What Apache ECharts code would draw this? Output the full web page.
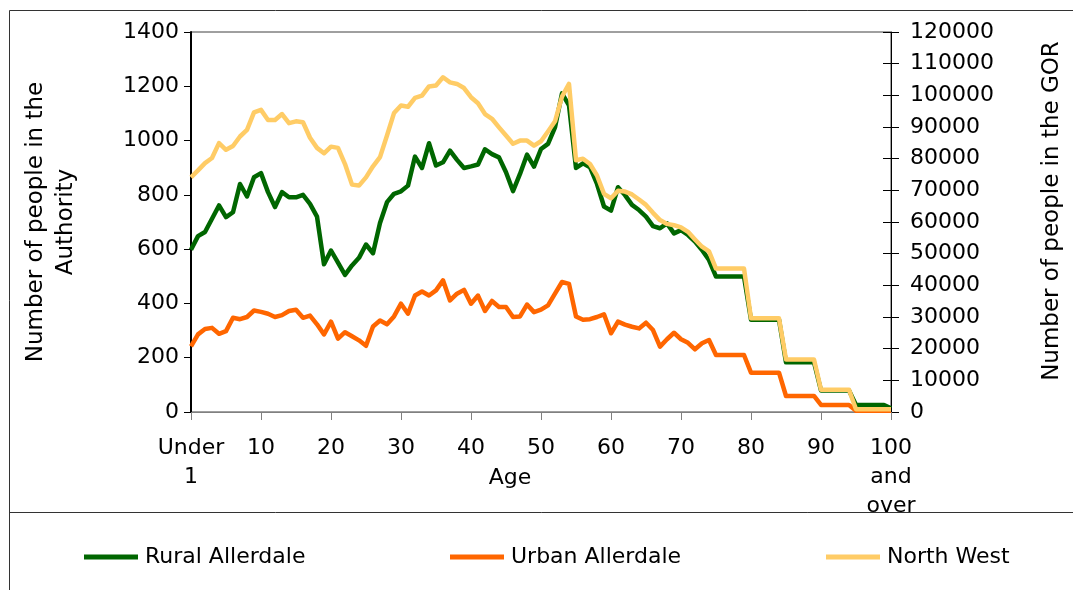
<!DOCTYPE html>
<html>
<head>
<meta charset="utf-8">
<script src="https://cdn.jsdelivr.net/npm/echarts@6/dist/echarts.min.js"></script>
<style>
html,body{margin:0;padding:0;background:#fff;}
#chart{width:1073px;height:590px;}
</style>
</head>
<body>
<div id="chart"></div>
<script>
// Categories: single years of age
const ages = ['Under 1','1','2','3','4','5','6','7','8','9','10','11','12','13','14','15','16','17','18','19','20',
'21','22','23','24','25','26','27','28','29','30','31','32','33','34','35','36','37','38','39','40',
'41','42','43','44','45','46','47','48','49','50','51','52','53','54','55','56','57','58','59','60',
'61','62','63','64','65','66','67','68','69','70','71','72','73','74','75','76','77','78','79','80',
'81','82','83','84','85','86','87','88','89','90','91','92','93','94','95','96','97','98','99','100 and over'];

// Left axis (Authority)
const ruralAllerdale = [598,648,663,712,761,718,736,840,794,865,880,810,755,810,791,791,800,767,720,544,595,
550,505,540,568,617,585,696,773,804,813,834,941,899,990,908,920,963,929,899,905,
912,968,950,938,883,814,877,948,904,969,988,1049,1174,1130,899,916,902,840,757,742,
828,799,763,744,720,685,677,695,658,670,652,628,597,560,499,499,499,499,499,340,
340,340,340,340,183,183,183,183,183,79,79,79,79,79,26,26,26,26,26,14];

const urbanAllerdale = [242,286,306,310,288,298,347,342,350,374,369,362,350,357,372,377,347,355,323,286,333,
270,294,279,264,244,315,337,323,352,399,362,429,444,429,448,485,411,436,450,399,
429,372,409,387,387,350,352,396,368,377,393,436,479,472,352,340,342,350,360,290,
333,322,314,308,329,302,241,268,292,268,255,231,253,265,210,210,210,210,210,145,
145,145,145,145,59,59,59,59,59,26,26,26,26,26,5,5,5,5,5,5];

// Right axis (GOR)
const northWest = [74100,76300,78600,80200,84900,82800,84000,87000,89100,94600,95400,92200,92200,94100,91200,91800,91500,86600,83400,81700,83800,
83400,78300,71800,71500,74100,77600,80500,87300,94400,96800,96400,99200,99900,102800,103100,105700,104100,103600,102300,99400,
97500,94100,92600,89900,87300,84700,85700,85700,84100,85500,88600,91800,99600,103600,79500,80000,78300,74700,68900,67500,
69900,69600,68700,67100,65400,62900,60600,59400,59000,58300,56900,54500,52200,50700,45300,45300,45300,45300,45300,29600,
29600,29600,29600,29600,16600,16600,16600,16600,16600,7000,7000,7000,7000,7000,900,900,900,900,900,900];

const seriesNames = ['Rural Allerdale','Urban Allerdale','North West'];
const seriesColors = ['#006600','#FF6600','#FFCC66'];

const FONT = 'DejaVu Sans';
const chart = echarts.init(document.getElementById('chart'), null, {renderer:'canvas'});
const plain = function(v){ return String(v); };

function legendFor(i, left){
  return {
    data:[seriesNames[i]], left:left, top:541, orient:'horizontal',
    icon:'rect', itemWidth:54, itemHeight:5,
    textStyle:{fontFamily:FONT, fontSize:22, color:'#000', padding:[0,0,0,2]},
    selectedMode:false
  };
}

const option = {
  animation:false,
  backgroundColor:'#fff',
  textStyle:{fontFamily:FONT},
  graphic:[
    {type:'line', shape:{x1:9.5,y1:10.5,x2:1073,y2:10.5}, style:{stroke:'#333',lineWidth:1}},
    {type:'line', shape:{x1:9.5,y1:10.5,x2:9.5,y2:590}, style:{stroke:'#333',lineWidth:1}},
    {type:'line', shape:{x1:9.5,y1:512.5,x2:1073,y2:512.5}, style:{stroke:'#333',lineWidth:1}}
  ],
  legend:[legendFor(0,79), legendFor(1,445), legendFor(2,821)],
  grid:{left:191, right:182, top:32, bottom:178, containLabel:false,
        show:true, borderColor:'#404040', borderWidth:1, backgroundColor:'transparent'},
  xAxis:{
    type:'category', data:ages, boundaryGap:false,
    name:'Age', nameLocation:'middle', nameGap:55, nameMoveOverlap:false,
    nameTextStyle:{fontFamily:FONT, fontSize:22, color:'#000', padding:[0,62,0,0]},
    axisLine:{lineStyle:{color:'#808080', width:1}},
    axisTick:{interval:9, length:8, lineStyle:{color:'#808080'}},
    axisLabel:{interval:9, margin:22, fontFamily:FONT, fontSize:22, color:'#000', lineHeight:29,
      formatter:function(v){ if(v==='Under 1') return 'Under\n1'; if(v==='100 and over') return '100\nand\nover'; return v; }},
    splitLine:{show:false}
  },
  yAxis:[
    {type:'value', position:'left', min:0, max:1400, interval:200,
     name:'Number of people in the\nAuthority', nameLocation:'middle', nameGap:110, nameRotate:90, nameMoveOverlap:false,
     nameTextStyle:{fontFamily:FONT, fontSize:23, color:'#000', lineHeight:30},
     axisLine:{show:true, lineStyle:{color:'#000', width:2}},
     axisTick:{show:true, length:7, lineStyle:{color:'#000'}},
     axisLabel:{margin:12, fontFamily:FONT, fontSize:22, color:'#000', formatter:plain},
     splitLine:{show:false}},
    {type:'value', position:'right', min:0, max:120000, interval:10000,
     name:'Number of people in the GOR', nameLocation:'middle', nameGap:150, nameRotate:90, nameMoveOverlap:false,
     nameTextStyle:{fontFamily:FONT, fontSize:23, color:'#000', padding:[0,0,0,22]},
     axisLine:{show:true, lineStyle:{color:'#000', width:1}},
     axisTick:{show:true, length:8, lineStyle:{color:'#000'}},
     axisLabel:{margin:19, fontFamily:FONT, fontSize:22, color:'#000', formatter:plain},
     splitLine:{show:false}},
    {type:'value', position:'right', min:0, max:120000, interval:10000,
     axisLine:{show:false}, axisTick:{show:true, inside:true, length:8, lineStyle:{color:'#000'}},
     axisLabel:{show:false}, splitLine:{show:false}}
  ],
  series:[
    {name:seriesNames[0], type:'line', yAxisIndex:0, data:ruralAllerdale, symbol:'none',
     lineStyle:{color:seriesColors[0], width:4.5, join:'round'}, itemStyle:{color:seriesColors[0]}, z:2},
    {name:seriesNames[1], type:'line', yAxisIndex:0, data:urbanAllerdale, symbol:'none',
     lineStyle:{color:seriesColors[1], width:4.5, join:'round'}, itemStyle:{color:seriesColors[1]}, z:3},
    {name:seriesNames[2], type:'line', yAxisIndex:1, data:northWest, symbol:'none',
     lineStyle:{color:seriesColors[2], width:4.5, join:'round'}, itemStyle:{color:seriesColors[2]}, z:4}
  ]
};
chart.setOption(option);
</script>
</body>
</html>
